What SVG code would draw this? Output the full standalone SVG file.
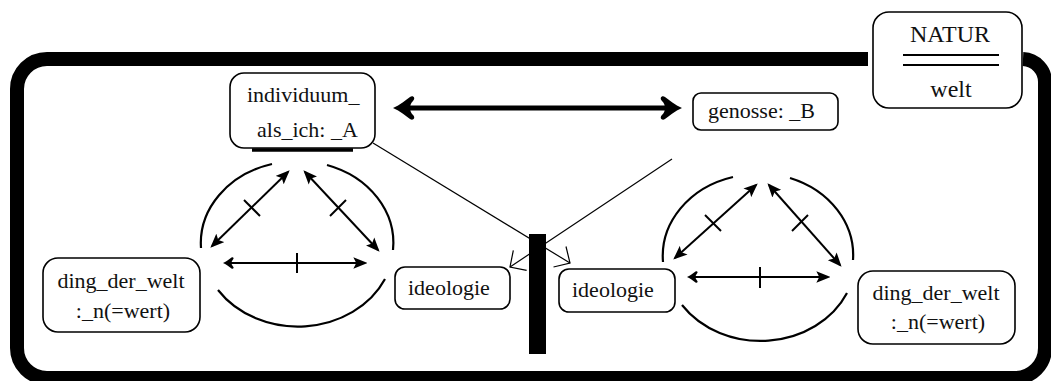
<svg xmlns="http://www.w3.org/2000/svg" width="1051" height="381" viewBox="0 0 1051 381">
<style>
.box{fill:#fff;stroke:#000;stroke-width:1.6}
.t{font-family:"Liberation Serif","Times New Roman",serif;font-size:22px;fill:#111}
.big{font-size:24px}
.arc{fill:none;stroke:#000;stroke-width:2.2}
.ar{fill:none;stroke:#000;stroke-width:2}
.tick{stroke:#000;stroke-width:2}
.thin{fill:none;stroke:#000;stroke-width:1.2}
</style>
<defs>
<marker id="fill" markerUnits="userSpaceOnUse" viewBox="0 0 12 10" refX="10" refY="5" markerWidth="14" markerHeight="12" orient="auto-start-reverse">
<path d="M0,0 L12,5 L0,10 L2.5,5 Z" fill="#000"/>
</marker>
<marker id="curvy" markerUnits="userSpaceOnUse" viewBox="-2 -14 26 28" refX="15" refY="0" markerWidth="26" markerHeight="28" orient="auto-start-reverse">
<path d="M22,0 C15,-3 9,-8 5,-11 C2,-13 -1,-10 2,-7 C6,-3 6,3 2,7 C-1,10 2,13 5,11 C9,8 15,3 22,0 Z" fill="#000"/>
</marker>
<marker id="curvysm" markerUnits="userSpaceOnUse" viewBox="-2 -14 26 28" refX="18" refY="0" markerWidth="13" markerHeight="14" orient="auto-start-reverse">
<path d="M22,0 C15,-3 9,-8 5,-11 C2,-13 -1,-10 2,-7 C6,-3 6,3 2,7 C-1,10 2,13 5,11 C9,8 15,3 22,0 Z" fill="#000"/>
</marker>
<marker id="open" markerUnits="userSpaceOnUse" viewBox="-14 -14 16 28" refX="0" refY="0" markerWidth="16" markerHeight="28" orient="auto">
<path d="M-12,-12 L0,0 L-12,12" fill="none" stroke="#000" stroke-width="1.2"/>
</marker>
</defs>

<g id="frame">
<path d="M868 59 L47 59 A30 30 0 0 0 17 89 L17 348 A30 30 0 0 0 47 378 L1015 378 A30 30 0 0 0 1045 348 L1045 83 A23 23 0 0 0 1023 59" fill="none" stroke="#000" stroke-width="14"/>
</g>

<g id="connectors">
<line x1="400" y1="108" x2="675" y2="108" stroke="#000" stroke-width="5" marker-start="url(#curvy)" marker-end="url(#curvy)"/>
<line x1="373" y1="143" x2="570" y2="263" class="thin" marker-end="url(#open)"/>
<line x1="672" y1="159" x2="510" y2="267" class="thin" marker-end="url(#open)"/>
</g>

<g id="bar">
<rect x="529" y="234" width="17" height="120" fill="#000"/>
</g>

<g id="triangle-left">
<path class="arc" d="M272 164 A96 82 0 0 0 201 248"/>
<path class="arc" d="M327 165 A96 82 0 0 1 393 250"/>
<path class="arc" d="M218 290 A96 82 0 0 0 385 279"/>
<line class="ar" x1="288" y1="172" x2="212" y2="246" marker-start="url(#fill)" marker-end="url(#fill)"/>
<line class="ar" x1="305" y1="172" x2="378" y2="250" marker-start="url(#fill)" marker-end="url(#fill)"/>
<line class="ar" x1="225" y1="263" x2="365" y2="263" marker-start="url(#curvysm)" marker-end="url(#fill)"/>
<line class="tick" x1="244" y1="200" x2="260" y2="216"/>
<line class="tick" x1="330" y1="216" x2="346" y2="200"/>
<line class="tick" x1="297" y1="253" x2="297" y2="273"/>
</g>

<g id="triangle-right">
<path class="arc" d="M733 177 A95 82 0 0 0 663 262"/>
<path class="arc" d="M790 178 A95 82 0 0 1 853 260"/>
<path class="arc" d="M682 305 A95 82 0 0 0 847 293"/>
<line class="ar" x1="756" y1="185" x2="675" y2="258" marker-start="url(#fill)" marker-end="url(#fill)"/>
<line class="ar" x1="769" y1="185" x2="840" y2="265" marker-start="url(#fill)" marker-end="url(#fill)"/>
<line class="ar" x1="689" y1="277" x2="828" y2="277" marker-start="url(#curvysm)" marker-end="url(#fill)"/>
<line class="tick" x1="705" y1="215" x2="721" y2="231"/>
<line class="tick" x1="792" y1="231" x2="808" y2="215"/>
<line class="tick" x1="760" y1="267" x2="760" y2="288"/>
</g>

<g id="individuum">
<rect class="box" x="230" y="73" width="145" height="75" rx="14"/>
<line x1="252" y1="150" x2="353" y2="150" stroke="#000" stroke-width="3.5"/>
<text class="t" x="247" y="102">individuum_</text>
<text class="t" x="257" y="137">als_ich: _A</text>
</g>

<g id="genosse">
<rect class="box" x="693" y="93" width="145" height="37" rx="8"/>
<text class="t" x="708" y="118">genosse: _B</text>
</g>

<g id="natur">
<rect class="box" x="873" y="12" width="149" height="96" rx="16"/>
<text class="t big" x="950" y="42" text-anchor="middle">NATUR</text>
<line x1="903" y1="55" x2="999" y2="55" stroke="#000" stroke-width="2"/>
<line x1="903" y1="65" x2="999" y2="65" stroke="#000" stroke-width="2"/>
<text class="t big" x="951" y="97" text-anchor="middle">welt</text>
</g>

<g id="ding-left">
<rect class="box" x="43" y="258" width="157" height="74" rx="15"/>
<text class="t" x="121" y="288" text-anchor="middle">ding_der_welt</text>
<text class="t" x="123" y="318" text-anchor="middle">:_n(=wert)</text>
</g>

<g id="ding-right">
<rect class="box" x="858" y="271" width="157" height="73" rx="15"/>
<text class="t" x="936" y="300" text-anchor="middle">ding_der_welt</text>
<text class="t" x="938" y="329" text-anchor="middle">:_n(=wert)</text>
</g>

<g id="ideologie-left">
<rect class="box" x="395" y="267" width="115" height="42" rx="10"/>
<text class="t" x="408" y="295">ideologie</text>
</g>

<g id="ideologie-right">
<rect class="box" x="559" y="269" width="116" height="43" rx="10"/>
<text class="t" x="572" y="297">ideologie</text>
</g>
</svg>
